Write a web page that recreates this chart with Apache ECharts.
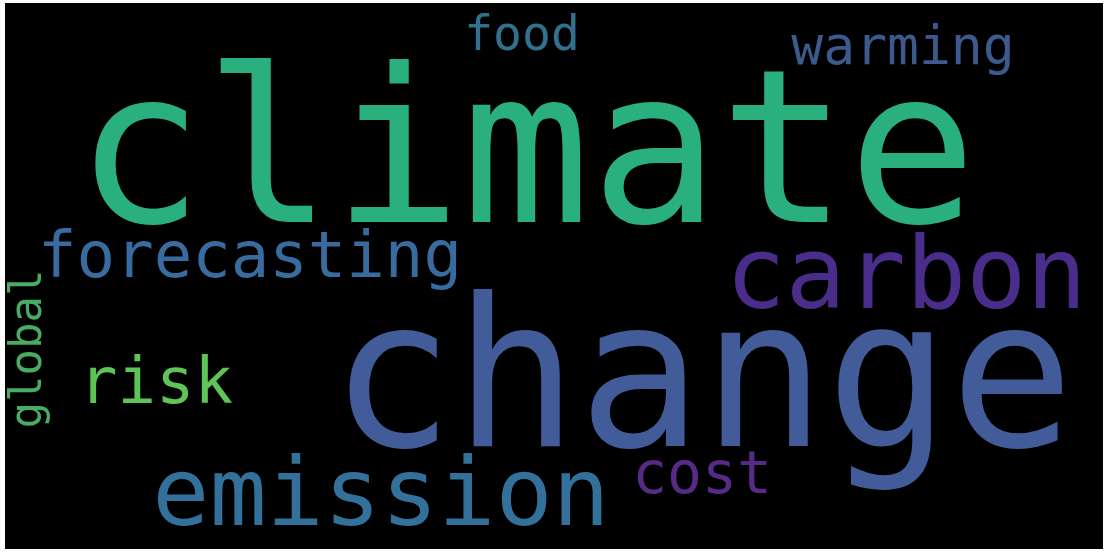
<!DOCTYPE html>
<html>
<head>
<meta charset="utf-8">
<script src="https://cdn.jsdelivr.net/npm/echarts@6/dist/echarts.min.js"></script>
<style>
html,body{margin:0;padding:0;background:#fff;}
#chart{width:1106px;height:552px;}
</style>
</head>
<body>
<div id="chart"></div>
<script>
// Word cloud data
var words   = ['climate', 'change', 'carbon', 'emission', 'forecasting', 'risk', 'cost', 'warming', 'food', 'global'];
var weights = [100, 96, 46, 44, 30, 30, 27, 25, 22, 20];

// Layout (word placement within the black panel), separate from data
var layoutX    = [521, 697, 901, 376, 245, 151, 697, 898, 517, 25];
var layoutY    = [163, 389, 279, 497, 257, 383, 475, 47, 35, 346];
var fontSizes  = [214, 206, 100, 95, 64, 64, 58, 53, 48, 44];
var rotations  = [0, 0, 0, 0, 0, 0, 0, 0, 0, 90];
var colors     = ['#2ab07f', '#415c98', '#4a2d8a', '#33709a', '#386c9e', '#5ec457', '#562a85', '#3d5a8e', '#31718d', '#48ad62'];

var data = words.map(function (w, i) {
  return {
    name: w,
    value: [layoutX[i], layoutY[i], weights[i]],
    label: {
      show: true,
      formatter: w,
      position: 'inside',
      align: 'center',
      verticalAlign: 'middle',
      fontFamily: 'DejaVu Sans Mono',
      fontSize: fontSizes[i],
      color: colors[i],
      rotate: rotations[i]
    }
  };
});

var chart = echarts.init(document.getElementById('chart'), null, {renderer: 'canvas'});
chart.setOption({
  backgroundColor: '#ffffff',
  animation: false,
  grid: {left: 5, top: 3, width: 1098, height: 546, show: true, backgroundColor: '#000000', borderWidth: 0},
  xAxis: {type: 'value', min: 0, max: 1098, show: false},
  yAxis: {type: 'value', min: 0, max: 546, inverse: true, show: false},
  series: [{
    type: 'scatter',
    symbolSize: 0,
    silent: true,
    itemStyle: {opacity: 1},
    data: data
  }]
});
</script>
</body>
</html>
